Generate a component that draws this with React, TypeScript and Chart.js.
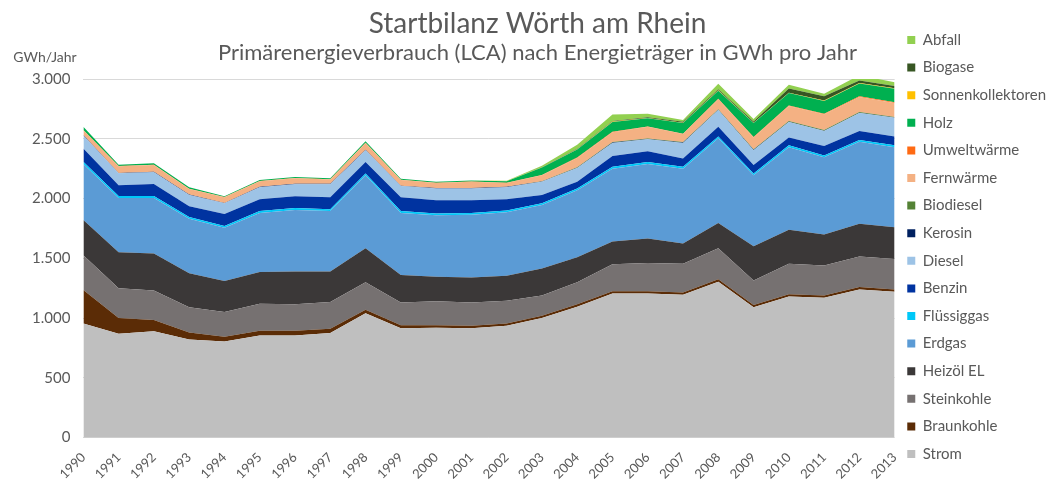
import { useEffect, useRef } from "react";
import { Chart, registerables } from "chart.js";

Chart.register(...registerables);

const years = ["1990", "1991", "1992", "1993", "1994", "1995", "1996", "1997", "1998", "1999", "2000", "2001", "2002", "2003", "2004", "2005", "2006", "2007", "2008", "2009", "2010", "2011", "2012", "2013"];

const strom = [955, 870, 890, 820, 805, 855, 855, 875, 1040, 915, 920, 915, 935, 1000, 1095, 1205, 1205, 1195, 1305, 1090, 1180, 1170, 1240, 1220];
const braunkohle = [280, 130, 95, 60, 40, 40, 40, 35, 30, 25, 20, 20, 20, 20, 20, 20, 20, 20, 20, 20, 20, 20, 20, 20];
const steinkohle = [290, 250, 245, 210, 205, 225, 220, 225, 230, 190, 200, 195, 190, 170, 185, 225, 235, 240, 260, 205, 255, 250, 255, 255];
const heizoel = [295, 300, 310, 285, 260, 265, 275, 255, 285, 230, 205, 210, 210, 225, 210, 190, 205, 170, 210, 285, 285, 260, 275, 265];
const erdgas = [470, 455, 465, 455, 445, 495, 515, 505, 610, 520, 515, 525, 530, 530, 560, 610, 625, 625, 710, 595, 690, 645, 685, 670];
const fluessiggas = [18, 16, 16, 15, 15, 15, 15, 15, 15, 15, 15, 15, 15, 15, 15, 15, 15, 15, 15, 15, 15, 15, 15, 15];
const benzin = [110, 90, 100, 90, 100, 100, 100, 100, 95, 115, 110, 105, 95, 70, 55, 90, 90, 70, 80, 70, 65, 80, 75, 75];
const diesel = [110, 100, 100, 95, 90, 100, 100, 110, 100, 95, 100, 100, 100, 110, 115, 110, 100, 130, 140, 125, 130, 125, 150, 155];
const kerosin = [3, 3, 3, 3, 3, 3, 3, 3, 3, 3, 3, 3, 3, 3, 3, 3, 3, 3, 3, 3, 3, 3, 3, 3];
const biodiesel = [0, 0, 0, 0, 0, 0, 0, 0, 0, 0, 0, 0, 0, 2, 4, 5, 5, 5, 5, 5, 5, 5, 5, 5];
const fernwaerme = [40, 57, 57, 47, 47, 47, 47, 37, 57, 47, 42, 52, 32, 50, 78, 82, 97, 67, 82, 97, 127, 132, 127, 117];
const umweltwaerme = [2, 2, 2, 2, 2, 2, 2, 2, 2, 2, 2, 2, 2, 2, 3, 3, 3, 3, 4, 4, 4, 4, 5, 5];
const holz = [28, 10, 13, 13, 8, 8, 8, 8, 13, 8, 8, 8, 13, 63, 68, 83, 68, 88, 68, 118, 103, 108, 108, 113];
const sonnenkollektoren = [0, 0, 0, 0, 0, 0, 0, 0, 0, 0, 1, 1, 1, 2, 2, 3, 3, 3, 3, 3, 4, 4, 4, 4];
const biogase = [0, 0, 0, 0, 0, 0, 0, 0, 0, 0, 0, 0, 0, 2, 3, 5, 5, 8, 10, 10, 35, 35, 20, 20];
const abfall = [0, 0, 0, 0, 0, 0, 0, 0, 0, 0, 0, 0, 2, 10, 35, 55, 30, 15, 45, 20, 30, 20, 45, 30];

const yTicks = [0, 500, 1000, 1500, 2000, 2500, 3000];

const FONT = "Lato, 'Open Sans', sans-serif";
const TXT = "#595959";

export default function App() {
  const ref = useRef<HTMLCanvasElement>(null);

  useEffect(() => {
    const series = [
      { label: "Strom", data: strom, color: "#BFBFBF" },
      { label: "Braunkohle", data: braunkohle, color: "#5B2C06" },
      { label: "Steinkohle", data: steinkohle, color: "#767171" },
      { label: "Heizöl EL", data: heizoel, color: "#3B3838" },
      { label: "Erdgas", data: erdgas, color: "#5B9BD5" },
      { label: "Flüssiggas", data: fluessiggas, color: "#00C8F8" },
      { label: "Benzin", data: benzin, color: "#0033A0" },
      { label: "Diesel", data: diesel, color: "#9DC3E6" },
      { label: "Kerosin", data: kerosin, color: "#002060" },
      { label: "Biodiesel", data: biodiesel, color: "#548235" },
      { label: "Fernwärme", data: fernwaerme, color: "#F4B183" },
      { label: "Umweltwärme", data: umweltwaerme, color: "#FF6A13" },
      { label: "Holz", data: holz, color: "#00B050" },
      { label: "Sonnenkollektoren", data: sonnenkollektoren, color: "#FFC000" },
      { label: "Biogase", data: biogase, color: "#375623" },
      { label: "Abfall", data: abfall, color: "#92D050" },
    ];

    const yLabelPlugin = {
      id: "yLabel",
      afterDraw(chart: any) {
        const ctx = chart.ctx;
        ctx.save();
        ctx.font = `14px ${FONT}`;
        ctx.fillStyle = TXT;
        ctx.textAlign = "center";
        ctx.textBaseline = "middle";
        ctx.fillText("GWh/Jahr", 45, 57);
        ctx.restore();
      },
    };

    const chart = new Chart(ref.current!, {
      type: "line",
      data: {
        labels: years,
        datasets: series.map((s, i) => ({
          label: s.label,
          data: s.data,
          backgroundColor: s.color,
          borderColor: s.color,
          borderWidth: 0,
          pointRadius: 0,
          pointHoverRadius: 0,
          tension: 0,
          fill: i === 0 ? "origin" : "-1",
        })),
      },
      options: {
        responsive: false,
        animation: false,
        layout: { padding: { left: 19, bottom: -12, right: -4, top: 0 } },
        plugins: {
          title: {
            display: true,
            text: "Startbilanz Wörth am Rhein",
            color: TXT,
            font: { family: FONT, size: 28, weight: "normal", lineHeight: 1.0 },
            padding: { top: 10, bottom: 0 },
          },
          subtitle: {
            display: true,
            text: "Primärenergieverbrauch (LCA) nach Energieträger in GWh pro Jahr",
            color: TXT,
            font: { family: FONT, size: 22, weight: "normal", lineHeight: 1.2 },
            padding: { top: 2, bottom: 12.6 },
          },
          legend: {
            position: "right",
            reverse: true,
            labels: {
              boxWidth: 8,
              boxHeight: 8,
              padding: 12.6,
              color: TXT,
              font: { family: FONT, size: 15 },
            },
          },
          tooltip: { enabled: false },
        },
        scales: {
          x: {
            grid: { display: false, drawTicks: false },
            border: { display: false },
            ticks: {
              color: TXT,
              font: { family: FONT, size: 13 },
              minRotation: 45,
              maxRotation: 45,
              autoSkip: false,
              padding: 12,
            },
          },
          y: {
            stacked: true,
            min: 0,
            max: 3000,
            afterBuildTicks: (axis: any) => {
              axis.ticks = yTicks.map((v) => ({ value: v }));
            },
            grid: { color: "#D9D9D9", drawTicks: false },
            border: { display: false },
            ticks: {
              color: TXT,
              font: { family: FONT, size: 15 },
              padding: 13,
              callback: (v: any) => Number(v).toLocaleString("de-DE"),
            },
          },
        },
      },
      plugins: [yLabelPlugin],
    } as any);

    return () => chart.destroy();
  }, []);

  return (
    <div style={{ position: "fixed", left: 0, top: 0, width: 1052, height: 482, background: "#fff" }}>
      <canvas ref={ref} width={1052} height={482} style={{ display: "block" }} />
    </div>
  );
}
